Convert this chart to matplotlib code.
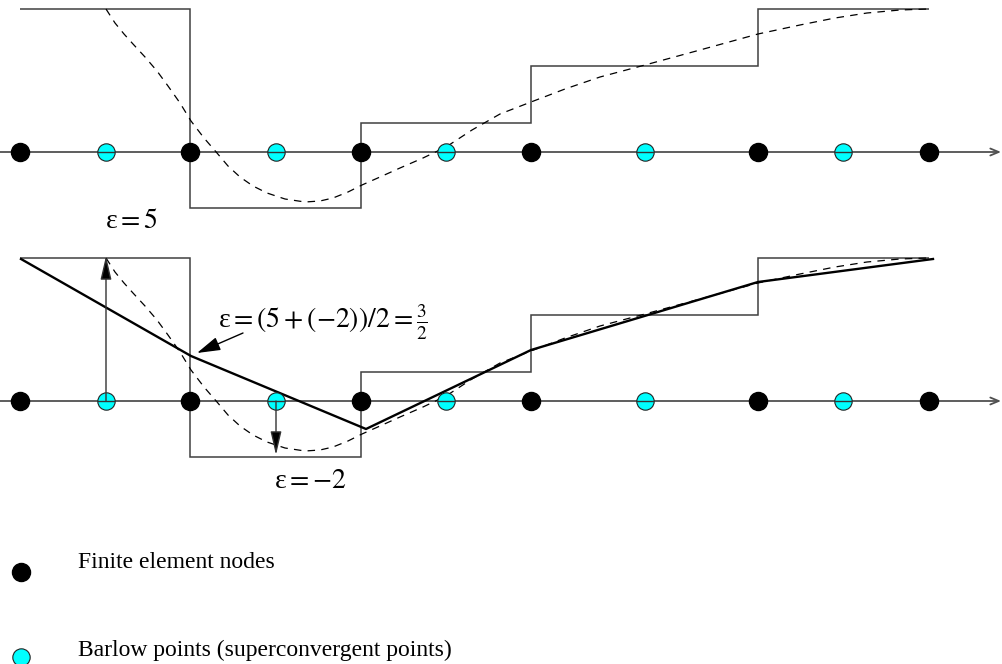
import matplotlib
matplotlib.use("Agg")
import matplotlib.pyplot as plt

plt.rcParams['font.family'] = ['Liberation Serif', 'DejaVu Serif']
plt.rcParams['mathtext.fontset'] = 'stix'

# ---------------- data (x in drawing units, y relative to the axis line) -------------
node_x = [20, 190, 361, 531, 758, 929]          # finite element nodes
barlow_x = [106, 276, 446, 645, 843]            # Barlow (superconvergent) points
elem_levels = [143, -56, 29, 86, 143]           # piecewise-constant FE derivative

exact_x = [106, 115, 124, 133, 145, 157, 168, 180, 191, 204, 217, 228, 240, 253, 267,
           285, 305, 320, 333, 348, 362, 380, 400, 423, 446, 472, 500, 531, 565, 600,
           645, 700, 758, 800, 835, 867, 900, 928]
exact_y = [143, 129, 118, 108, 95, 81, 66, 49, 31, 14, -1, -14, -25, -34, -41,
           -47, -50, -49, -46, -40, -33, -25, -16, -6, 5, 22, 38, 50, 63, 75,
           87, 102, 118, 127, 134, 139, 142, 143]

recovered_x = [21, 191, 366, 531, 758, 933]     # recovered (averaged) derivative
recovered_y = [142, 45, -28, 51, 119, 142]

eps_labels = [r'ε$=5$', r'ε$={-2}$',
              r'ε$=(5+(-2))/2=\frac{3}{2}$']
legend_labels = ['Finite element nodes', 'Barlow points (superconvergent points)']

W, H = 1002, 664
fig = plt.figure(figsize=(W / 100, H / 100), dpi=100)
fig.patch.set_facecolor('white')

STEP_C = '#404040'
AXIS_C = '#505050'
CYAN = '#00FFFF'


def panel(y0, y1, yb):
    ax = fig.add_axes([0, 1 - y1 / H, 1, (y1 - y0) / H])
    ax.set_xlim(0, W)
    ax.set_ylim(yb - y1, yb - y0)
    ax.axis('off')
    return ax


def draw_common(ax):
    ax.annotate('', xy=(1001, 0), xytext=(0, 0),
                arrowprops=dict(arrowstyle='->,head_length=0.6,head_width=0.25',
                                color=AXIS_C, lw=1.3, shrinkA=0, shrinkB=0,
                                mutation_scale=10), annotation_clip=False)
    ax.stairs(elem_levels, node_x, baseline=None, color=STEP_C, lw=1.1, zorder=2)
    ax.plot(exact_x, exact_y, color='black', lw=0.9, dashes=(6, 5), zorder=3,
            clip_on=False)


def draw_points(ax):
    ax.plot(node_x, [0] * len(node_x), 'o', ms=13, color='black', zorder=6,
            clip_on=False)
    ax.plot(barlow_x, [0] * len(barlow_x), 'o', ms=12.5, mfc=CYAN, mec='#222222',
            mew=0.8, zorder=6, clip_on=False)
    for bx in barlow_x:
        ax.plot([bx - 8, bx + 8], [0, 0], color='#333333', lw=1.0, zorder=7)


# top panel
ax1 = panel(0, 230, 152)
draw_common(ax1)
draw_points(ax1)

# bottom panel
ax2 = panel(230, 480, 401)
draw_common(ax2)
ax2.plot(recovered_x, recovered_y, color='black', lw=1.7, zorder=4, clip_on=False)
draw_points(ax2)

arr = dict(arrowstyle='-|>,head_length=1.2,head_width=0.28', mutation_scale=12,
           lw=1.0, shrinkA=0, shrinkB=0, color='#333333', fc='black')
ax2.annotate('', xy=(barlow_x[0], 145), xytext=(barlow_x[0], 0),
             arrowprops=arr, zorder=8)
ax2.annotate('', xy=(barlow_x[1], -54), xytext=(barlow_x[1], 0),
             arrowprops=arr, zorder=8)

# overlay for text and legend, in pixel coordinates
ov = fig.add_axes([0, 0, 1, 1])
ov.set_xlim(0, W)
ov.set_ylim(H, 0)
ov.axis('off')
ov.patch.set_alpha(0)

ov.text(105, 222, eps_labels[0], fontsize=20, ha='left', va='center')
ov.text(274, 482, eps_labels[1], fontsize=20, ha='left', va='center')
ov.text(218, 322, eps_labels[2], fontsize=20, ha='left', va='center')
ov.annotate('', xy=(197, 353), xytext=(243, 333),
            arrowprops=dict(arrowstyle='-|>,head_length=1.2,head_width=0.35',
                            mutation_scale=12, color='black', lw=1.0,
                            shrinkA=0, shrinkB=0))

# legend
ov.plot([21], [572], 'o', ms=13, color='black', clip_on=False)
ov.plot([21], [657], 'o', ms=12.5, mfc=CYAN, mec='#222222', mew=0.8, clip_on=False)
ov.text(78, 563, legend_labels[0], fontsize=17, ha='left', va='center')
ov.text(78, 650, legend_labels[1], fontsize=17, ha='left', va='center')

fig.savefig('out.png', dpi=100, facecolor='white')
